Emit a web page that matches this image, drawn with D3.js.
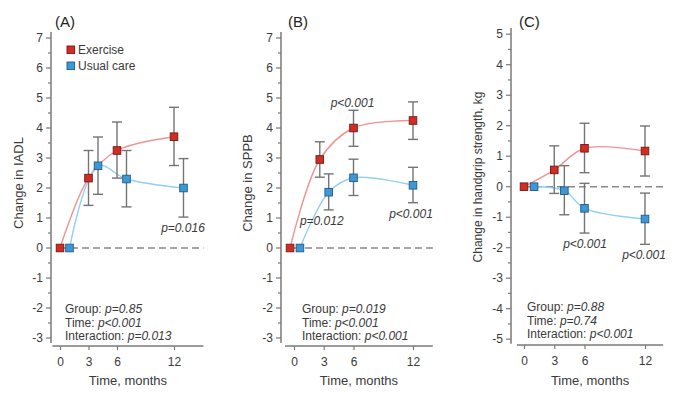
<!DOCTYPE html>
<html>
<head>
<meta charset="utf-8">
<script src="https://cdn.jsdelivr.net/npm/d3@7"></script>
<style>
  body { margin: 0; background: #fff; }
  svg text { font-family: "Liberation Sans", Arial, sans-serif; }
</style>
</head>
<body>
<svg id="chart" width="680" height="401"></svg>
<script>
'use strict';

// ---- data (months, mean change, lower / upper error bar) ----
var months = [0, 3, 6, 12];

// (A) IADL
var iadlEx      = [0, 2.33, 3.25, 3.71];
var iadlExLo    = [0, 1.42, 2.33, 2.75];
var iadlExHi    = [0, 3.25, 4.20, 4.69];
var iadlUc      = [0, 2.74, 2.30, 2.00];
var iadlUcLo    = [0, 1.79, 1.37, 1.03];
var iadlUcHi    = [0, 3.70, 3.25, 2.98];

// (B) SPPB
var sppbEx      = [0, 2.95, 4.00, 4.25];
var sppbExLo    = [0, 2.36, 3.39, 3.62];
var sppbExHi    = [0, 3.54, 4.59, 4.87];
var sppbUc      = [0, 1.86, 2.34, 2.09];
var sppbUcLo    = [0, 1.27, 1.75, 1.51];
var sppbUcHi    = [0, 2.47, 2.96, 2.69];

// (C) handgrip strength, kg
var gripEx      = [0, 0.55, 1.26, 1.17];
var gripExLo    = [0, -0.22, 0.46, 0.35];
var gripExHi    = [0, 1.34, 2.08, 1.99];
var gripUc      = [0, -0.13, -0.71, -1.06];
var gripUcLo    = [0, -0.92, -1.52, -1.89];
var gripUcHi    = [0, 0.69, 0.11, -0.21];

// horizontal dodge of the two groups, in months
var dodgeA = {ex: [0, 0, 0, 0],       uc: [1, 1, 1, 1]};
var dodgeB = {ex: [-0.4, -0.4, 0, 0], uc: [0.6, 0.5, 0, 0]};
var dodgeC = {ex: [0, 0, 0, 0],       uc: [1, 1, 0, 0]};

var xTicks = [0, 3, 6, 12];

var statsA = [["Group: ", "p=0.85"], ["Time: ", "p<0.001"], ["Interaction: ", "p=0.013"]];
var statsB = [["Group: ", "p=0.019"], ["Time: ", "p<0.001"], ["Interaction: ", "p<0.001"]];
var statsC = [["Group: ", "p=0.88"], ["Time: ", "p=0.74"], ["Interaction: ", "p<0.001"]];

// p-value notes: [month, value, text]
var notesA = [[12.95, 0.67, "p=0.016"]];
var notesB = [[5.9, 4.83, "p<0.001"], [2.8, 0.9, "p=0.012"], [11.8, 1.13, "p<0.001"]];
var notesC = [[6.05, -1.86, "p<0.001"], [11.9, -2.23, "p<0.001"]];

var legendNames = ["Exercise", "Usual care"];

var RED = "#d42b22", RED_EDGE = "#6a1c18", RED_LINE = "#f29292";
var BLUE = "#3c98d8", BLUE_EDGE = "#235a82", BLUE_LINE = "#92d0f0";
var AXIS = "#7a7a7a", TXT = "#3a3a3a", BAR = "#747474";

var svg = d3.select("#chart");

function series(vals, lo, hi, dodge) {
    return months.map(function (m, i) {
        return {m: m + dodge[i], v: vals[i], lo: lo[i], hi: hi[i]};
    });
}

function drawPanel(p) {
    var g = svg.append("g");

    var x = d3.scaleLinear().domain([0, 12]).range([p.x0, p.x12]);
    var y = d3.scaleLinear().domain(p.yDom).range(p.yRange);

    // y axis (outward ticks, minor ticks at halves)
    var yAx = g.append("g").attr("transform", "translate(" + p.yAxisX + ",0)");
    yAx.append("line").attr("y1", y(p.yLine[0])).attr("y2", y(p.yLine[1]))
        .attr("stroke", AXIS).attr("stroke-width", 1.5);
    var minor = d3.range(p.yDom[0], p.yDom[1] + 0.01, 0.5);
    yAx.selectAll(".mn").data(minor).enter().append("line")
        .attr("x1", function (d) { return Number.isInteger(d) ? -5 : -3; })
        .attr("x2", 0)
        .attr("y1", function (d) { return y(d); }).attr("y2", function (d) { return y(d); })
        .attr("stroke", AXIS).attr("stroke-width", 1.2);
    yAx.selectAll(".lb").data(d3.range(p.yDom[0], p.yDom[1] + 1)).enter().append("text")
        .attr("x", -8).attr("y", function (d) { return y(d); }).attr("dy", "0.35em")
        .attr("text-anchor", "end").attr("font-size", 12).attr("fill", TXT)
        .text(function (d) { return d; });

    // x axis
    var xAxY = p.xAxisY;
    var xAx = g.append("g").attr("transform", "translate(0," + xAxY + ")");
    xAx.append("line").attr("x1", x(p.xLine[0])).attr("x2", x(p.xLine[1]))
        .attr("stroke", AXIS).attr("stroke-width", 1.5);
    var axB = d3.axisBottom(x).tickValues(xTicks).tickSize(4).tickPadding(7);
    var ax = xAx.append("g").call(axB);
    ax.select(".domain").remove();
    ax.selectAll("line").attr("stroke", AXIS).attr("stroke-width", 1.2);
    ax.selectAll("text").attr("font-size", 12).attr("fill", TXT)
        .style("font-family", '"Liberation Sans", Arial, sans-serif');

    // titles
    g.append("text").attr("x", (x(p.xLine[0]) + x(p.xLine[1])) / 2).attr("y", 385)
        .attr("text-anchor", "middle").attr("font-size", 13).attr("fill", TXT)
        .text("Time, months");
    g.append("text")
        .attr("transform", "translate(" + p.yTitleX + "," + p.yTitleY + ") rotate(-90)")
        .attr("text-anchor", "middle").attr("dy", "0.35em")
        .attr("font-size", p.yTitleSize).attr("fill", TXT)
        .text(p.yTitle);
    g.append("text").attr("x", p.letterX).attr("y", 27)
        .attr("font-size", 15).attr("fill", "#222").text(p.letter);

    // zero reference line
    g.append("line").attr("x1", x(0)).attr("x2", x(p.xLine[1]))
        .attr("y1", y(0)).attr("y2", y(0))
        .attr("stroke", "#8a8a8a").attr("stroke-width", 1.5).attr("stroke-dasharray", "7,4");

    var groups = [
        {data: p.ex, fill: RED, edge: RED_EDGE, line: RED_LINE},
        {data: p.uc, fill: BLUE, edge: BLUE_EDGE, line: BLUE_LINE}
    ];

    var curve = d3.line()
        .x(function (d) { return x(d.m); })
        .y(function (d) { return y(d.v); })
        .curve(d3.curveCatmullRom.alpha(0.5));

    groups.forEach(function (s) {
        g.append("path").datum(s.data).attr("d", curve)
            .attr("fill", "none").attr("stroke", s.line).attr("stroke-width", 1.4);
    });

    groups.forEach(function (s) {
        var eb = g.selectAll(null).data(s.data.filter(function (d) { return d.hi !== d.lo; }))
            .enter().append("g").attr("stroke", BAR).attr("stroke-width", 1.4);
        eb.append("line").attr("x1", function (d) { return x(d.m); }).attr("x2", function (d) { return x(d.m); })
            .attr("y1", function (d) { return y(d.lo); }).attr("y2", function (d) { return y(d.hi); });
        eb.append("line").attr("x1", function (d) { return x(d.m) - 5; }).attr("x2", function (d) { return x(d.m) + 5; })
            .attr("y1", function (d) { return y(d.lo); }).attr("y2", function (d) { return y(d.lo); });
        eb.append("line").attr("x1", function (d) { return x(d.m) - 5; }).attr("x2", function (d) { return x(d.m) + 5; })
            .attr("y1", function (d) { return y(d.hi); }).attr("y2", function (d) { return y(d.hi); });
    });

    groups.forEach(function (s) {
        g.selectAll(null).data(s.data).enter().append("rect")
            .attr("x", function (d) { return x(d.m) - 3.8; })
            .attr("y", function (d) { return y(d.v) - 3.8; })
            .attr("width", 7.6).attr("height", 7.6)
            .attr("fill", s.fill).attr("stroke", s.edge).attr("stroke-width", 0.9);
    });

    // p-value notes
    g.selectAll(null).data(p.notes).enter().append("text")
        .attr("x", function (d) { return x(d[0]); })
        .attr("y", function (d) { return y(d[1]); })
        .attr("dy", "0.35em").attr("text-anchor", "middle")
        .attr("font-size", 12).attr("font-style", "italic").attr("fill", TXT)
        .text(function (d) { return d[2]; });

    // statistics block
    var st = g.selectAll(null).data(p.stats).enter().append("text")
        .attr("x", p.statX)
        .attr("y", function (d, i) { return p.statY + i * 13.7; })
        .attr("font-size", 12).attr("fill", TXT);
    st.append("tspan").text(function (d) { return d[0]; });
    st.append("tspan").attr("font-style", "italic").text(function (d) { return d[1]; });

    return {g: g, x: x, y: y};
}

var pA = drawPanel({
    letter: "(A)", letterX: 55,
    yAxisX: 51, x0: 60, x12: 174, xLine: [-0.8, 15.1], xAxisY: 346,
    yDom: [-3, 7], yRange: [338, 38], yLine: [-3.17, 7.2],
    yTitle: "Change in IADL", yTitleX: 18, yTitleY: 183, yTitleSize: 13,
    ex: series(iadlEx, iadlExLo, iadlExHi, dodgeA.ex),
    uc: series(iadlUc, iadlUcLo, iadlUcHi, dodgeA.uc),
    notes: notesA, stats: statsA, statX: 65, statY: 313
});

drawPanel({
    letter: "(B)", letterX: 288,
    yAxisX: 281, x0: 294, x12: 413, xLine: [-0.9, 14], xAxisY: 346,
    yDom: [-3, 7], yRange: [338, 38], yLine: [-3.17, 7.2],
    yTitle: "Change in SPPB", yTitleX: 247, yTitleY: 183, yTitleSize: 13,
    ex: series(sppbEx, sppbExLo, sppbExHi, dodgeB.ex),
    uc: series(sppbUc, sppbUcLo, sppbUcHi, dodgeB.uc),
    notes: notesB, stats: statsB, statX: 302, statY: 313
});

drawPanel({
    letter: "(C)", letterX: 519,
    yAxisX: 511, x0: 524, x12: 645, xLine: [-0.7, 13.8], xAxisY: 345,
    yDom: [-5, 5], yRange: [339.2, 34.2], yLine: [-5.15, 5.2],
    yTitle: "Change in handgrip strength, kg", yTitleX: 478, yTitleY: 177, yTitleSize: 12,
    ex: series(gripEx, gripExLo, gripExHi, dodgeC.ex),
    uc: series(gripUc, gripUcLo, gripUcHi, dodgeC.uc),
    notes: notesC, stats: statsC, statX: 527, statY: 311
});

// legend (panel A)
var leg = svg.append("g").selectAll("g").data(legendNames).enter().append("g")
    .attr("transform", function (d, i) { return "translate(67," + (46 + i * 16) + ")"; });
leg.append("rect").attr("width", 7.6).attr("height", 7.6)
    .attr("fill", function (d, i) { return i ? BLUE : RED; })
    .attr("stroke", function (d, i) { return i ? BLUE_EDGE : RED_EDGE; }).attr("stroke-width", 0.9);
leg.append("text").attr("x", 11).attr("y", 3.8).attr("dy", "0.35em")
    .attr("font-size", 12).attr("fill", TXT).text(function (d) { return d; });
</script>
</body>
</html>
